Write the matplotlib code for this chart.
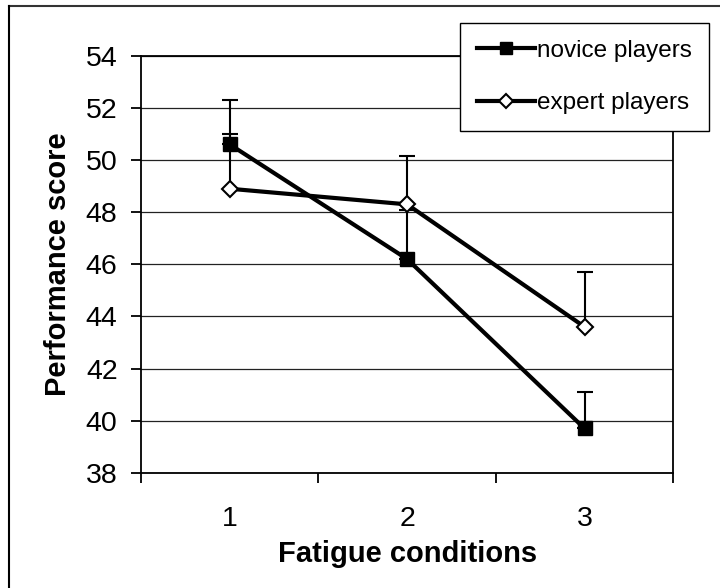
import matplotlib

matplotlib.use("Agg")
import matplotlib.pyplot as plt
from matplotlib.lines import Line2D

plt.rcParams["font.family"] = ["Liberation Sans", "DejaVu Sans"]

# data
conditions = [1, 2, 3]
tick_labels = ["1", "2", "3"]
novice_mean = [50.6, 46.2, 39.7]
novice_err = [1.7, 1.9, 1.4]
expert_mean = [48.9, 48.3, 43.6]
expert_err = [2.1, 1.85, 2.1]
series_names = ["novice players", "expert players"]

fig = plt.figure(figsize=(7.2, 5.88), dpi=100)
ax = fig.add_axes([0.196, 0.196, 0.739, 0.709])

# upper-only error bars, drawn under the lines
ax.errorbar(conditions, novice_mean, yerr=[[0] * 3, novice_err], fmt="none",
            ecolor="black", elinewidth=1.5, capsize=5.5, capthick=1.5, zorder=2)
ax.errorbar(conditions, expert_mean, yerr=[[0] * 3, expert_err], fmt="none",
            ecolor="black", elinewidth=1.5, capsize=5.5, capthick=1.5, zorder=2)

ax.plot(conditions, novice_mean, color="black", lw=3, marker="s", ms=10.5,
        mfc="black", mec="black", zorder=3)
ax.plot(conditions, expert_mean, color="black", lw=3, marker="D", ms=8.5,
        mfc="white", mec="black", mew=1.5, zorder=4)

ax.set_xlim(0.5, 3.5)
ax.set_ylim(38, 54)
ax.set_yticks(range(38, 55, 2))
ax.grid(axis="y", color="#222222", lw=0.9)
ax.set_axisbelow(True)

# category axis: ticks between categories, labels centred
ax.set_xticks([0.5, 1.5, 2.5, 3.5])
ax.set_xticklabels([])
ax.set_xticks(conditions, minor=True)
ax.set_xticklabels(tick_labels, minor=True)
ax.tick_params(axis="x", which="major", direction="out", length=7, width=1.3)
ax.tick_params(axis="x", which="minor", length=0, pad=24, labelsize=20.5)
ax.tick_params(axis="y", direction="out", length=7, width=1.3, labelsize=20.5, pad=10)

for s in ax.spines.values():
    s.set_linewidth(1.3)
    s.set_color("black")

ax.set_xlabel("Fatigue conditions", fontsize=21, fontweight="bold", labelpad=6)
ax.set_ylabel("Performance score", fontsize=21, fontweight="bold", labelpad=10)

handles = [
    Line2D([], [], color="black", lw=3, marker="s", ms=9, mfc="black"),
    Line2D([], [], color="black", lw=3, marker="D", ms=7.5, mfc="white", mew=1.5),
]
leg = fig.legend(handles, series_names, loc="upper right",
                 bbox_to_anchor=(0.985, 0.961), fontsize=17.5, frameon=True,
                 fancybox=False, edgecolor="black", framealpha=1,
                 handlelength=2.4, handletextpad=0.1, labelspacing=1.25,
                 borderpad=0.7, borderaxespad=0)
leg.get_frame().set_linewidth(1.0)

# outer chart frame (top and left edges visible in the reference)
fig.add_artist(Line2D([0.0125, 1.0], [0.99, 0.99], color="#333333", lw=1.5,
                      transform=fig.transFigure))
fig.add_artist(Line2D([0.0125, 0.0125], [0.0, 0.99], color="black", lw=1.5,
                      transform=fig.transFigure))

fig.savefig("out.png", dpi=100)
